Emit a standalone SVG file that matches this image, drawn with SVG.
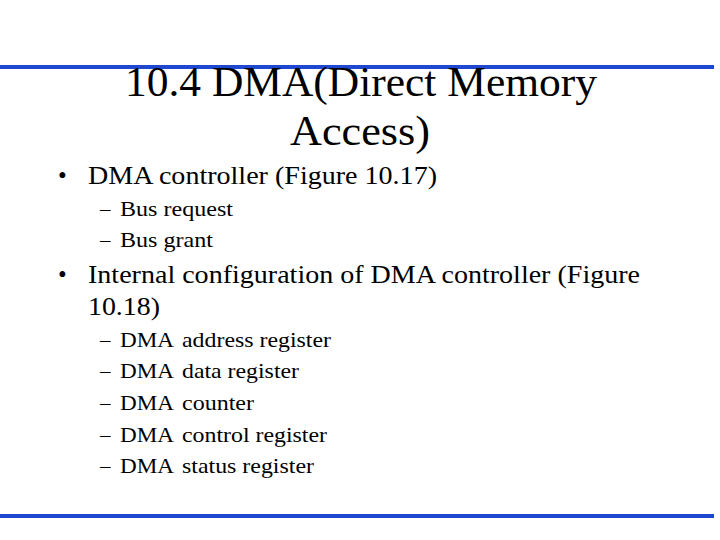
<svg xmlns="http://www.w3.org/2000/svg" width="720" height="540" viewBox="0 0 720 540">
<style>
text{font-family:"Liberation Serif","Times New Roman",serif;fill:#000}
.t{font-size:42px;text-anchor:middle}
.b{font-size:25px}
.s{font-size:21px}
.line{stroke:#1f48d0;stroke-width:4}
</style>
<rect width="720" height="540" fill="#fff"/>
<line class="line" x1="0" y1="67" x2="714" y2="67"/>
<line class="line" x1="0" y1="516" x2="714" y2="516"/>
<text class="t" x="361" y="96" textLength="472" lengthAdjust="spacingAndGlyphs">10.4 DMA(Direct Memory</text>
<text class="t" x="360" y="145" textLength="140" lengthAdjust="spacingAndGlyphs">Access)</text>
<text class="b" x="58" y="184">•</text>
<text class="b" x="88" y="184" textLength="349" lengthAdjust="spacingAndGlyphs">DMA controller (Figure 10.17)</text>
<text class="s" x="100" y="216">–</text><text class="s" x="120" y="216" textLength="113" lengthAdjust="spacingAndGlyphs">Bus request</text>
<text class="s" x="100" y="247">–</text><text class="s" x="120" y="247" textLength="93" lengthAdjust="spacingAndGlyphs">Bus grant</text>
<text class="b" x="58" y="283">•</text>
<text class="b" x="88" y="283" textLength="552" lengthAdjust="spacingAndGlyphs">Internal configuration of DMA controller (Figure</text>
<text class="b" x="88" y="315" textLength="72" lengthAdjust="spacingAndGlyphs">10.18)</text>
<text class="s" x="100" y="347">–</text><text class="s" x="120" y="347" textLength="54" lengthAdjust="spacingAndGlyphs">DMA</text><text class="s" x="182" y="347" textLength="149" lengthAdjust="spacingAndGlyphs">address register</text>
<text class="s" x="100" y="378">–</text><text class="s" x="120" y="378" textLength="54" lengthAdjust="spacingAndGlyphs">DMA</text><text class="s" x="182" y="378" textLength="117" lengthAdjust="spacingAndGlyphs">data register</text>
<text class="s" x="100" y="410">–</text><text class="s" x="120" y="410" textLength="54" lengthAdjust="spacingAndGlyphs">DMA</text><text class="s" x="182" y="410" textLength="72" lengthAdjust="spacingAndGlyphs">counter</text>
<text class="s" x="100" y="442">–</text><text class="s" x="120" y="442" textLength="54" lengthAdjust="spacingAndGlyphs">DMA</text><text class="s" x="182" y="442" textLength="145" lengthAdjust="spacingAndGlyphs">control register</text>
<text class="s" x="100" y="473">–</text><text class="s" x="120" y="473" textLength="54" lengthAdjust="spacingAndGlyphs">DMA</text><text class="s" x="182" y="473" textLength="132" lengthAdjust="spacingAndGlyphs">status register</text>
</svg>
